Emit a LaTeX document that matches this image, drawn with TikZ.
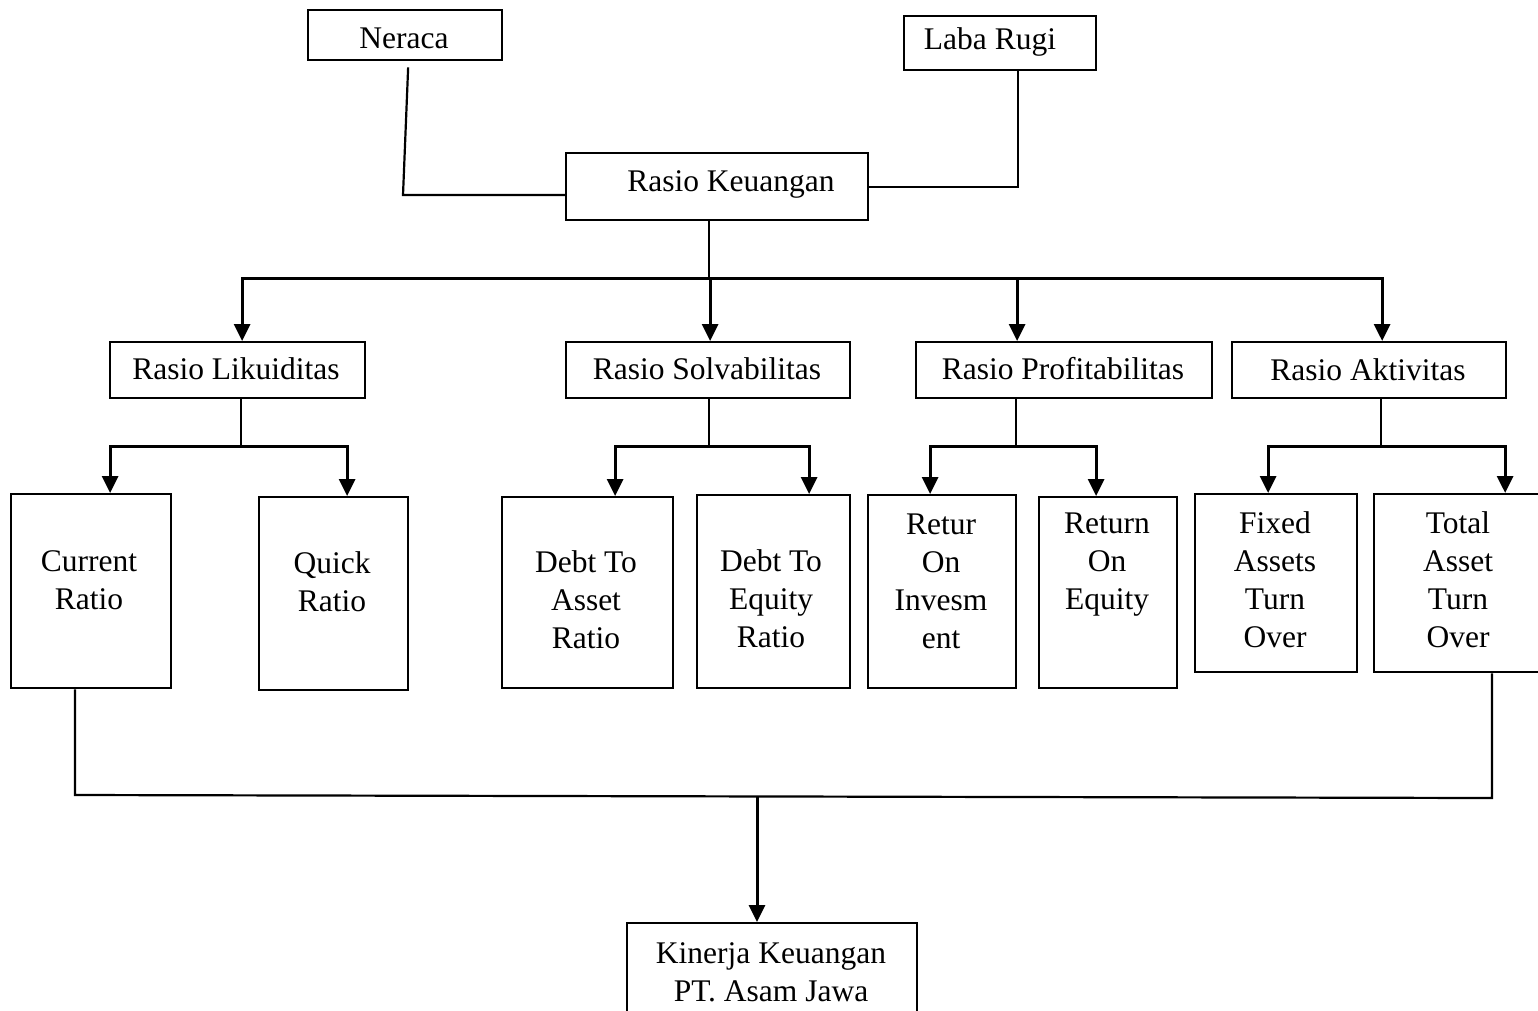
\documentclass[tikz,border=0pt]{standalone}
\usepackage{fontspec}
\setmainfont{Liberation Serif}
\usetikzlibrary{arrows.meta}
\tikzset{
  box/.style={draw,line width=2.3pt,inner sep=0pt,anchor=north west},
  txt/.style={align=center,inner sep=0pt,font=\fontsize{31.5}{38}\selectfont},
  link/.style={line width=2.2pt},
  arr/.style={line width=3pt,-{Triangle[width=16pt,length=17pt]}},
}
\begin{document}
\begin{tikzpicture}[x=1pt,y=-1pt]
\useasboundingbox (0,0) rectangle (1538,1010);
\fill[white] (0,0) rectangle (1538,1010);
\clip (0,0) rectangle (1538,1010);
% boxes: name/left/top/width/height
\foreach \n/\x/\y/\w/\h in {ner/307/9/194/50,lr/903/15/192/54,rk/565/152/302/67,
  lik/109/341/255/56,solv/565/341/284/56,prof/915/341/296/56,akt/1231/341/274/56,
  cr/10/493/160/194,qr/258/496/149/193,dta/501/496/171/191,dte/696/494/153/193,
  roi/867/494/148/193,roe/1038/496/138/191,fat/1194/493/162/178,tat/1373/493/170/178,
  kin/626/922/290/110}
  {\node[box,minimum width=\w pt,minimum height=\h pt] (\n) at (\x,\y) {};}
% texts
\foreach \n/\x/\y/\t in {ner/404/38/Neraca,lr/990/42/Laba Rugi,rk/731/184/Rasio Keuangan,
  lik/236/369/Rasio Likuiditas,solv/707/369/Rasio Solvabilitas,
  prof/1063/369/Rasio Profitabilitas,akt/1368/370/Rasio Aktivitas,
  cr/89/580/{Current\\Ratio},qr/332/582/{Quick\\Ratio},
  dta/586/600/{Debt To\\Asset\\Ratio},dte/771/599/{Debt To\\Equity\\Ratio},
  roi/941/581/{Retur\\On\\Invesm\\ent},roe/1107/565/{Return\\On\\Equity},
  fat/1275/580/{Fixed\\Assets\\Turn\\Over},tat/1458/580/{Total\\Asset\\Turn\\Over},
  kin/771/972/{Kinerja Keuangan\\PT. Asam Jawa}}
  {\node[txt] (\n-t) at (\x,\y) {\t};}
% bend points
\coordinate (nc) at (403,195);
\coordinate (top) at (709,278);
\coordinate (likb) at (241,446);
\coordinate (solvb) at (709,446);
\coordinate (profb) at (1016,446);
\coordinate (aktb) at (1381,446);
\coordinate (bl) at (75,795);
\coordinate (br) at (1492,798);
\coordinate (bm) at (757,797);
% inputs
\draw[link] ([xshift=3pt,yshift=-6pt]ner.south) -- (nc) -- (rk.west |- nc);
\draw[link] ([xshift=18pt]lr.south) |- (rk.east);
% ratio groups
\draw[link] (rk.south -| top) -- (top);
\foreach \n/\dx in {lik/4.5,solv/2,prof/-47,akt/13}
  \draw[arr] (top) -| ([xshift=\dx pt]\n.north);
\foreach \p/\a/\da/\b/\db in {lik/cr/19/qr/13.5,solv/dta/27.5/dte/35.5,
  prof/roi/-12/roe/-12,akt/fat/-8/tat/46}{
  \draw[link] (\p.south -| \p b) -- (\p b);
  \draw[arr] (\p b) -| ([xshift=\da pt]\a.north);
  \draw[arr] (\p b) -| ([xshift=\db pt]\b.north);
}
% result
\draw[link] (cr.south -| bl) -- (bl) -- (br) -- (tat.south -| br);
\draw[arr] (bm) -- (kin.north -| bm);
\end{tikzpicture}
\end{document}
